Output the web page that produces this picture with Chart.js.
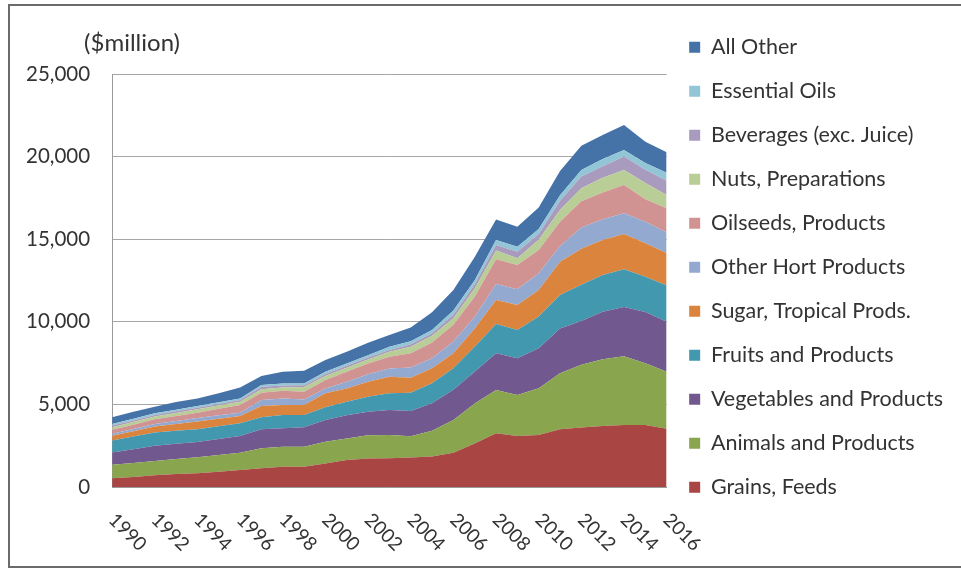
<!DOCTYPE html>
<html>
<head>
<meta charset="utf-8">
<title>Imports by product group</title>
<script src="https://cdn.jsdelivr.net/npm/chart.js@4.4.1/dist/chart.umd.min.js"></script>
<style>
  html, body { margin: 0; padding: 0; background: #fff; }
  #wrap { position: relative; width: 961px; height: 569px; overflow: hidden; }
  #frame { position: absolute; left: 8px; top: 4px; width: 1000px; height: 564px; border: 2px solid #6b6b6b; box-sizing: border-box; }
  #chart { position: absolute; left: 0; top: 0; }
</style>
</head>
<body>
<div id="wrap">
  <div id="frame"></div>
  <canvas id="chart" width="961" height="569"></canvas>
</div>
<script>
'use strict';

// data ($million)

let years = ['1990', '1991', '1992', '1993', '1994', '1995', '1996', '1997', '1998', '1999',
  '2000', '2001', '2002', '2003', '2004', '2005', '2006', '2007', '2008', '2009',
  '2010', '2011', '2012', '2013', '2014', '2015', '2016'];

let yTicks = [0, 5000, 10000, 15000, 20000, 25000];

let grains = [530, 610, 710, 780, 830, 920, 1030, 1130, 1230, 1230, 1430, 1630, 1730, 1740, 1780, 1840, 2080, 2640, 3250, 3090, 3150, 3490, 3600, 3700, 3760, 3750, 3530];
let animals = [810, 840, 870, 920, 970, 1010, 1050, 1210, 1210, 1210, 1310, 1310, 1410, 1410, 1290, 1570, 1980, 2420, 2620, 2480, 2830, 3390, 3800, 4040, 4150, 3740, 3450];
let vegetables = [750, 830, 910, 920, 930, 970, 1010, 1150, 1110, 1170, 1310, 1410, 1410, 1510, 1530, 1660, 1820, 1920, 2220, 2220, 2420, 2720, 2650, 2870, 2990, 3110, 3030];
let fruits = [730, 770, 810, 790, 770, 770, 770, 730, 810, 750, 770, 810, 910, 1010, 1100, 1210, 1310, 1510, 1780, 1720, 1920, 2020, 2200, 2220, 2280, 2130, 2190];
let sugar = [280, 320, 360, 400, 460, 460, 440, 690, 600, 600, 850, 810, 910, 1010, 920, 910, 910, 1110, 1450, 1510, 1610, 2020, 2170, 2120, 2140, 2020, 1970];
let otherHort = [120, 140, 160, 190, 220, 210, 200, 360, 400, 340, 300, 400, 460, 500, 610, 610, 710, 710, 970, 950, 1010, 950, 1290, 1260, 1250, 1310, 1240];
let oilseeds = [240, 260, 280, 300, 320, 390, 460, 440, 460, 460, 510, 610, 650, 710, 860, 950, 1010, 1210, 1490, 1470, 1410, 1470, 1590, 1620, 1710, 1360, 1460];
let nuts = [160, 160, 160, 180, 200, 200, 200, 200, 200, 300, 240, 240, 240, 300, 400, 400, 400, 500, 530, 400, 610, 710, 780, 890, 910, 980, 810];
let beverages = [100, 100, 100, 100, 100, 100, 100, 160, 120, 100, 120, 120, 120, 100, 150, 160, 200, 260, 340, 400, 350, 550, 710, 690, 810, 810, 860];
let essentialOils = [100, 100, 100, 100, 100, 100, 100, 100, 120, 100, 140, 140, 140, 200, 190, 200, 260, 240, 300, 300, 300, 340, 400, 440, 400, 400, 480];
let allOther = [400, 430, 400, 470, 460, 550, 670, 550, 710, 770, 710, 710, 750, 710, 820, 1070, 1250, 1410, 1250, 1210, 1310, 1470, 1460, 1460, 1510, 1290, 1250];

let seriesNames = ['Grains, Feeds', 'Animals and Products', 'Vegetables and Products',
  'Fruits and Products', 'Sugar, Tropical Prods.', 'Other Hort Products',
  'Oilseeds, Products', 'Nuts, Preparations', 'Beverages (exc. Juice)',
  'Essential Oils', 'All Other'];
let seriesValues = [grains, animals, vegetables, fruits, sugar, otherHort,
  oilseeds, nuts, beverages, essentialOils, allOther];
let seriesColors = ['#a94543', '#89a54e', '#71588f', '#4198af', '#db843d', '#93a9cf',
  '#d19392', '#b9cd96', '#a99bbd', '#92c5d6', '#4572a7'];

// chart

let textColor = '#333333';
let fontName = 'Lato, "Open Sans", sans-serif';

function makeDatasets() {
  let sets = [];
  for (let i = 0; i < seriesNames.length; i++) {
    sets.push({
      label: seriesNames[i],
      data: seriesValues[i],
      backgroundColor: seriesColors[i],
      borderColor: seriesColors[i],
      borderWidth: 0,
      pointRadius: 0,
      pointHoverRadius: 0,
      tension: 0,
      fill: i === 0 ? 'origin' : '-1'
    });
  }
  return sets;
}

// the unit label sits a bit left of the plot, like Excel puts it
const shiftUnitLabel = {
  id: 'shiftUnitLabel',
  afterLayout: function (chart) {
    if (chart.titleBlock) {
      chart.titleBlock.left -= 28;
    }
  }
};

let canvasChart = document.getElementById('chart');
const myChart = new Chart(canvasChart, {
  type: 'line',
  data: {
    labels: years,
    datasets: makeDatasets()
  },
  plugins: [shiftUnitLabel],
  options: {
    responsive: false,
    animation: false,
    events: [],
    layout: {
      padding: { left: 4, right: 8, top: 14, bottom: 0 }
    },
    plugins: {
      title: {
        display: true,
        text: '($million)',
        fullSize: false,
        align: 'start',
        color: textColor,
        font: { family: fontName, size: 24, weight: 'normal' },
        padding: { top: 14.6, bottom: 16.6 }
      },
      legend: {
        position: 'right',
        align: 'start',
        reverse: true,
        maxWidth: 330,
        labels: {
          boxWidth: 11,
          boxHeight: 11,
          padding: 22.5,
          color: textColor,
          font: { family: fontName, size: 21.5 }
        }
      },
      tooltip: { enabled: false }
    },
    scales: {
      x: {
        grid: { display: false, drawTicks: false },
        border: { display: true, color: '#9a9a9a', width: 1 },
        ticks: {
          autoSkip: false,
          minRotation: -45,
          maxRotation: -45,
          labelOffset: 31,
          padding: 0,
          color: textColor,
          font: { family: fontName, size: 19, lineHeight: '172px' },
          callback: function (value, index) {
            return index % 2 === 0 ? years[index] : '';
          }
        },
        afterFit: function (scale) {
          scale.height = 82;
        }
      },
      y: {
        stacked: true,
        min: yTicks[0],
        max: yTicks[yTicks.length - 1],
        grid: { color: '#a6a6a6', drawTicks: false },
        border: { display: true, color: '#9a9a9a', width: 1 },
        afterBuildTicks: function (scale) {
          scale.ticks = yTicks.map(function (v) { return { value: v }; });
        },
        ticks: {
          padding: 22,
          color: textColor,
          font: { family: fontName, size: 20.5 },
          callback: function (value) {
            return value.toLocaleString('en-US');
          }
        }
      }
    }
  }
});
</script>
</body>
</html>
